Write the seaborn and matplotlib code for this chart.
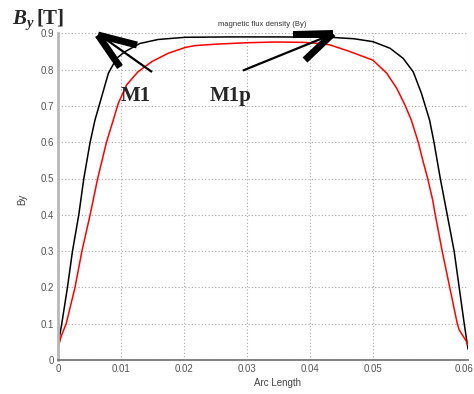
import matplotlib
matplotlib.use("Agg")
import matplotlib.pyplot as plt
import matplotlib.transforms as mtransforms
import seaborn as sns
import pandas as pd
from matplotlib.lines import Line2D

# ---- data ----
m1_x = [0, 0.0006, 0.0015, 0.0023, 0.0033, 0.0041, 0.0051, 0.00587, 0.00693, 0.0080,
        0.0093, 0.0106, 0.0130, 0.0159, 0.0202, 0.027, 0.035, 0.0432, 0.047, 0.0500,
        0.0527, 0.0548, 0.0564, 0.0577, 0.0590, 0.0597, 0.0607, 0.0618, 0.0629, 0.0637,
        0.0645, 0.0651]
m1_y = [0.041, 0.10, 0.20, 0.30, 0.40, 0.50, 0.60, 0.661, 0.725, 0.790,
        0.831, 0.849, 0.872, 0.883, 0.889, 0.890, 0.890, 0.889, 0.885, 0.877,
        0.859, 0.831, 0.794, 0.735, 0.661, 0.60, 0.50, 0.40, 0.30, 0.20,
        0.10, 0.03]
m1p_x = [0, 0.0005, 0.0013, 0.0027, 0.0038, 0.0051, 0.0063, 0.0077, 0.00878, 0.00957,
         0.0109, 0.0127, 0.0149, 0.0175, 0.0202, 0.0217, 0.025, 0.030, 0.0345, 0.039,
         0.0416, 0.0432, 0.0463, 0.0500, 0.0522, 0.0538, 0.0551, 0.0561, 0.0572, 0.0580,
         0.0587, 0.0595, 0.0599, 0.0610, 0.0622, 0.0634, 0.0637, 0.0649, 0.0651]
m1p_y = [0.033, 0.065, 0.10, 0.20, 0.30, 0.40, 0.50, 0.60, 0.661, 0.707,
         0.758, 0.794, 0.822, 0.845, 0.861, 0.866, 0.870, 0.874, 0.876, 0.875,
         0.872, 0.868, 0.850, 0.826, 0.790, 0.748, 0.702, 0.661, 0.60, 0.545,
         0.50, 0.44, 0.40, 0.30, 0.20, 0.10, 0.083, 0.050, 0.041]
x_tick_pos = [0, 0.01, 0.02, 0.03, 0.04, 0.05, 0.0651]
x_tick_labels = ["0", "0.01", "0.02", "0.03", "0.04", "0.05", "0.06"]
y_ticks = [0, 0.1, 0.2, 0.3, 0.4, 0.5, 0.6, 0.7, 0.8, 0.9]
y_tick_labels = ["0", "0.1", "0.2", "0.3", "0.4", "0.5", "0.6", "0.7", "0.8", "0.9"]

df = pd.concat([
    pd.DataFrame({"arc": m1_x, "By": m1_y, "series": "M1"}),
    pd.DataFrame({"arc": m1p_x, "By": m1p_y, "series": "M1p"}),
])

sns.set_style("white")
plt.rcParams["font.family"] = ["Liberation Sans", "DejaVu Sans"]
plt.rcParams["mathtext.fontset"] = "custom"
plt.rcParams["mathtext.it"] = "Liberation Serif:italic:bold"
plt.rcParams["mathtext.rm"] = "Liberation Serif:bold"

W, H = 474, 394
fig = plt.figure(figsize=(W / 100, H / 100), dpi=100)
ax = fig.add_axes([58 / W, 1 - 360 / H, 410 / W, 326.7 / H])

sns.lineplot(data=df, x="arc", y="By", hue="series", estimator=None, sort=False,
             palette={"M1": "#000000", "M1p": "#ff0000"}, linewidth=1.1, ax=ax, legend=False)

ax.set_xlim(0, 0.0651)
ax.set_ylim(0, 0.9)
ax.set_xticks(x_tick_pos)
ax.set_xticklabels(x_tick_labels)
ax.set_yticks(y_ticks)
ax.set_yticklabels(y_tick_labels)
ax.tick_params(axis="both", length=0, labelsize=7, labelcolor="#555555", pad=3)
last = ax.get_xticklabels()[-1]
last.set_transform(last.get_transform() +
                   mtransforms.ScaledTranslation(-4 / 100, 0, fig.dpi_scale_trans))
ax.grid(True, linestyle=(0, (1, 2)), color="#a8a8a8", linewidth=0.8)
for s in ["top", "right"]:
    ax.spines[s].set_visible(False)
ax.spines["left"].set_color("#b8b8b8")
ax.spines["left"].set_linewidth(2)
ax.spines["bottom"].set_color("#777777")
ax.spines["bottom"].set_linewidth(1.3)

ax.set_xlabel("Arc Length", fontsize=7, color="#444444")
ax.set_ylabel("By", fontsize=7, color="#444444")
ax.xaxis.set_label_coords((277 - 58) / 410, -(383 - 360) / 326.7)
ax.xaxis.label.set_va("center")
ax.yaxis.set_label_coords(-(58 - 27) / 410, (360 - 199) / 326.7)
fig.text(262 / W, 1 - 25 / H, "magnetic flux density (By)", fontsize=5.5,
         color="#333333", ha="center", va="center")

def fp(x, y):
    return (x / W, 1 - y / H)

serif = ["Liberation Serif", "DejaVu Serif"]
fig.text(*fp(12, 24), r"$B_{y}$", fontsize=15, fontweight="bold",
         family=serif, va="baseline")
fig.text(*fp(37, 24), "[T]", fontsize=15, fontweight="bold",
         family=serif, va="baseline")
fig.text(*fp(121, 101), "M1", fontsize=15, fontweight="bold", family=serif, va="baseline")
fig.text(*fp(210, 101), "M1p", fontsize=15, fontweight="bold", family=serif, va="baseline")

def seg(p, q, lw):
    (x0, y0), (x1, y1) = fp(*p), fp(*q)
    fig.add_artist(Line2D([x0, x1], [y0, y1], transform=fig.transFigure,
                          color="black", linewidth=lw, solid_capstyle="butt"))

# M1 arrow
seg((152, 72), (104, 38), 1.6)
seg((98, 35), (137, 45), 5)
seg((98, 35), (120, 67), 5)
# M1p arrow
seg((243, 70.5), (328, 36), 1.6)
seg((333, 33.5), (293, 34.5), 5)
seg((333, 33.5), (305, 60), 5)

fig.savefig("out.png", dpi=100)
